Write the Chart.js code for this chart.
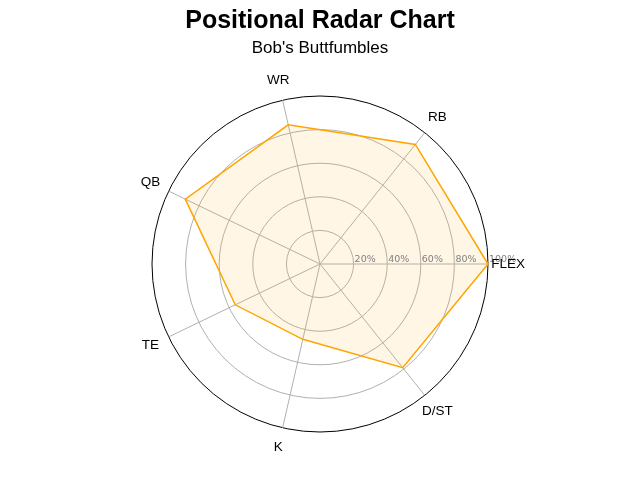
<!DOCTYPE html>
<html>
<head>
<meta charset="utf-8">
<script src="https://cdn.jsdelivr.net/npm/chart.js@4"></script>
<style>
  html, body { margin: 0; padding: 0; background: #fff; }
</style>
</head>
<body>
<canvas id="radar" width="640" height="480"></canvas>
<script>
// positions, counter-clockwise from the right
var positions = ['FLEX', 'RB', 'WR', 'QB', 'TE', 'K', 'D/ST'];
var scores = [100, 91, 85, 89, 56, 46, 79];

var tickValues = [20, 40, 60, 80, 100];
var tickLabels = ['20%', '40%', '60%', '80%', '100%'];

// chart.js goes clockwise, so keep FLEX first and flip the rest
var cjsLabels = [positions[0]].concat(positions.slice(1).reverse());
var cjsScores = [scores[0]].concat(scores.slice(1).reverse());

var labelFont = '13.5px "Liberation Sans", Arial, sans-serif';
var tickFont = '9.5px "DejaVu Sans", sans-serif';

// own labels: centred like matplotlib does it
var radarText = {
  id: 'radarText',
  afterDatasetsDraw: function (chart) {
    var sc = chart.scales.r;
    var ctx = chart.ctx;
    ctx.save();

    // tick labels along the right axis
    ctx.font = tickFont;
    ctx.fillStyle = '#808080';
    ctx.textAlign = 'left';
    ctx.textBaseline = 'alphabetic';
    for (var i = 0; i < tickValues.length; i++) {
      var d = sc.getDistanceFromCenterForValue(tickValues[i]);
      ctx.fillText(tickLabels[i], sc.xCenter + d + 1, sc.yCenter - 2);
    }

    // category labels
    ctx.font = labelFont;
    ctx.fillStyle = '#000';
    ctx.textAlign = 'center';
    ctx.textBaseline = 'middle';
    var dist = sc.drawingArea * 1.12;
    for (var j = 0; j < cjsLabels.length; j++) {
      var p = sc.getPointPosition(j, dist);
      ctx.fillText(cjsLabels[j], p.x, p.y);
    }
    ctx.restore();
  }
};

const ctx = document.getElementById('radar');

var radarChart = new Chart(ctx, {
  type: 'radar',
  data: {
    labels: cjsLabels,
    datasets: [{
      label: "Bob's Buttfumbles",
      data: cjsScores,
      borderColor: '#FFA500',
      borderWidth: 1.5,
      backgroundColor: 'rgba(255,165,0,0.1)',
      fill: true,
      pointRadius: 0,
      pointHoverRadius: 0,
      tension: 0
    }]
  },
  options: {
    responsive: false,
    animation: false,
    devicePixelRatio: 1,
    layout: {
      padding: { top: 0, bottom: 48, left: 0, right: 0 }
    },
    scales: {
      r: {
        min: 0,
        max: 100,
        startAngle: 90,
        ticks: { display: false, stepSize: 20 },
        pointLabels: { display: false },
        grid: {
          circular: true,
          lineWidth: 1,
          color: function (c) {
            return c.tick && c.tick.value === 100 ? '#000000' : '#b0b0b0';
          }
        },
        angleLines: { color: '#b0b0b0', lineWidth: 1 }
      }
    },
    plugins: {
      legend: { display: false },
      tooltip: { enabled: false },
      title: {
        display: true,
        text: 'Positional Radar Chart',
        color: '#000',
        font: { family: '"Liberation Sans", Arial, sans-serif', size: 25, weight: 'bold' },
        padding: { top: 6, bottom: 2 }
      },
      subtitle: {
        display: true,
        text: "Bob's Buttfumbles",
        color: '#000',
        font: { family: '"Liberation Sans", Arial, sans-serif', size: 17 },
        padding: { top: 0, bottom: 37.6 }
      }
    }
  },
  plugins: [radarText]
});
</script>
</body>
</html>
